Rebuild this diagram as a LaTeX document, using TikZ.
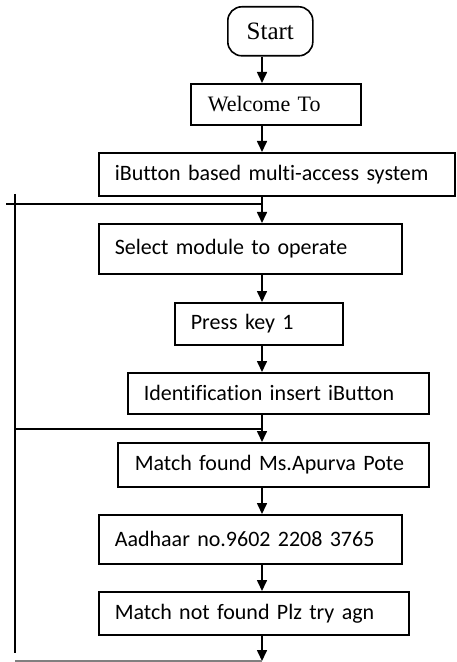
\documentclass[tikz,border=0pt]{standalone}
\usepackage{fontspec}
\setmainfont{Liberation Serif}
\newfontfamily\calibri[Ligatures=NoCommon]{Carlito}
\usetikzlibrary{arrows.meta}
\tikzset {>={Triangle[length=5.5pt,width=5pt]}}
\tikzset{
  box/.style={draw, line width=.8pt, anchor=north west, inner xsep=8pt,
    inner ysep=0pt, align=left, font=\calibri\fontsize{11}{13}\selectfont},
  flow/.style={->, line width=.8pt}
}

\begin{document}
\begin{tikzpicture}[x=.5pt,y=-.5pt]
\useasboundingbox (0,0) rectangle (456,662);

\node[draw, line width=.8pt, rounded corners=7pt, anchor=north west,
  minimum width=42.5pt, minimum height=24.5pt, font=\fontsize{12.5}{14}\selectfont]
  (start) at (227,6) {Start};
\node[box, font=\fontsize{11}{13}\selectfont, inner xsep=8.5pt,
  text width=68pt, minimum height=20.5pt] (welcome) at (190,83) {Welcome To};
\node[box, text width=162pt, minimum height=21.5pt] (ibutton) at (98,152)
  {iButton based multi-access system};
\node[box, text width=135.5pt, minimum height=25pt] (select) at (98,223)
  {Select module to operate};
\node[box, text width=68pt, minimum height=21pt] (presskey) at (174,302)
  {Press key 1};
\node[box, text width=134.5pt, minimum height=20.5pt] (identify) at (127,372)
  {Identification insert iButton};
\node[box, inner xsep=8.5pt, text width=138.5pt, minimum height=22pt] (found) at (117,442)
  {Match found Ms.Apurva Pote};
\node[box, text width=135.5pt, minimum height=24.5pt] (aadhaar) at (98,514)
  {Aadhaar no.9602 2208 3765};
\node[box, text width=139pt, minimum height=21.5pt] (notfound) at (98,591)
  {Match not found Plz try agn};

% main line and the loop back on the left
\coordinate (spine) at (262,0);
\coordinate (topL) at (6,204);
\coordinate (topJ) at (262,204);
\coordinate (railTop) at (15,194);
\coordinate (railBot) at (15,653);
\coordinate (midL) at (15,429);
\coordinate (midJ) at (262,429);
\coordinate (botL) at (15,661);
\coordinate (botJ) at (262,661);

\draw[flow] (start.south -| spine) -- (welcome.north -| spine);
\draw[flow] (welcome.south -| spine) -- (ibutton.north -| spine);
\draw[flow] (ibutton.south -| spine) -- (select.north -| spine);
\draw[flow] (select.south -| spine) -- (presskey.north -| spine);
\draw[flow] (presskey.south -| spine) -- (identify.north -| spine);
\draw[flow] (identify.south -| spine) -- (found.north -| spine);
\draw[flow] (found.south -| spine) -- (aadhaar.north -| spine);
\draw[flow] (aadhaar.south -| spine) -- (notfound.north -| spine);
\draw[flow] (notfound.south -| spine) -- (botJ);

\draw[line width=.8pt] (topL) -- (topJ);
\draw[line width=.8pt] (railTop) -- (railBot);
\draw[line width=.8pt] (midL) -- (midJ);
\draw[line width=.6pt,gray] (botL) -- (botJ);
\end{tikzpicture}
\end{document}
